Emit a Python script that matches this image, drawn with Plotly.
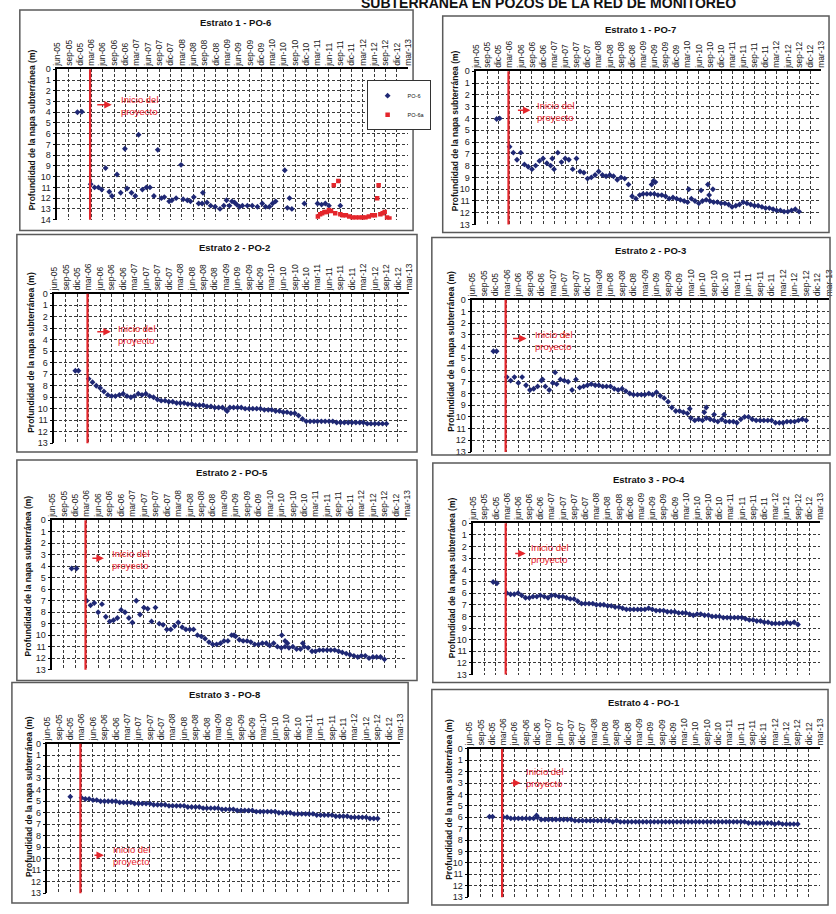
import pandas as pd
import plotly.graph_objects as go

# ---------------------------------------------------------------- data
TICK_LABELS = ["jun-05", "sep-05", "dic-05", "mar-06", "jun-06", "sep-06", "dic-06",
               "mar-07", "jun-07", "sep-07", "dic-07", "mar-08", "jun-08", "sep-08",
               "dic-08", "mar-09", "jun-09", "sep-09", "dic-09", "mar-10", "jun-10",
               "sep-10", "dic-10", "mar-11", "jun-11", "sep-11", "dic-11", "mar-12",
               "jun-12", "sep-12", "dic-12", "mar-13"]
AXIS_START = "2005-06-01"
AXIS_END = "2013-03-01"
PROJECT_START = "2006-02-20"          # "Inicio del proyecto"
MONTHLY_START = "2006-03-01"          # first monthly reading after project start

# Estrato 1 - PO-6 (irregular readings)
PO6_DATES = ["2005-11-10", "2005-12-15", "2006-02-25", "2006-03-28", "2006-04-28", "2006-05-25",
             "2006-06-25", "2006-07-25", "2006-08-15", "2006-09-25", "2006-10-25", "2006-11-28",
             "2006-12-15", "2007-01-20", "2007-02-20", "2007-03-18", "2007-04-18", "2007-05-20",
             "2007-06-18", "2007-07-20", "2007-08-20", "2007-09-18", "2007-10-12", "2007-11-20",
             "2007-12-12", "2008-01-15", "2008-02-24", "2008-03-12", "2008-04-15", "2008-05-10",
             "2008-06-06", "2008-07-15", "2008-08-12", "2008-08-18", "2008-09-20", "2008-10-20",
             "2008-11-25", "2009-01-03", "2009-02-03", "2009-02-25", "2009-03-20", "2009-04-10",
             "2009-05-01", "2009-05-18", "2009-06-10", "2009-07-03", "2009-08-12", "2009-09-20",
             "2009-11-01", "2009-12-10", "2010-01-06", "2010-02-06", "2010-03-03", "2010-03-28",
             "2010-06-10", "2010-07-01", "2010-07-18", "2010-08-06", "2010-11-15", "2011-03-01",
             "2011-04-03", "2011-05-03", "2011-06-01", "2011-09-01"]
PO6_DEPTH = [4.0, 3.95, 10.7, 11.0, 11.0, 11.2,
             9.2, 11.4, 11.8, 9.8, 11.5, 7.4,
             11.1, 11.5, 11.8, 6.1, 11.2, 11.0,
             11.0, 11.8, 7.5, 12.0, 11.9, 12.3,
             12.2, 12.0, 8.9, 12.1, 12.2, 12.3,
             11.9, 12.5, 12.5, 11.5, 12.4, 12.7,
             12.8, 13.0, 12.7, 12.2, 12.7, 12.3,
             12.4, 12.6, 12.8, 12.7, 12.7, 12.7,
             12.8, 12.5, 12.8, 12.8, 12.5, 12.3,
             9.4, 12.9, 12.0, 13.0, 12.5, 12.5,
             12.6, 12.5, 12.7, 12.7]

# Estrato 1 - PO-6a
PO6A_DATES = ["2011-03-04", "2011-03-22", "2011-04-08", "2011-04-26", "2011-05-15", "2011-06-01",
              "2011-06-18", "2011-07-10", "2011-07-22", "2011-08-16", "2011-09-01", "2011-09-20",
              "2011-10-16", "2011-11-12", "2011-12-08", "2012-01-04", "2012-02-01", "2012-02-28",
              "2012-03-22", "2012-04-18", "2012-05-15", "2012-06-06", "2012-06-24", "2012-07-06",
              "2012-07-20", "2012-08-08", "2012-08-24", "2012-09-12", "2012-10-01"]
PO6A_DEPTH = [13.7, 13.5, 13.4, 13.3, 13.3, 13.1,
              13.2, 10.8, 13.4, 10.4, 13.5, 13.6,
              13.6, 13.7, 13.8, 13.8, 13.8, 13.8,
              13.8, 13.7, 13.6, 13.6, 12.0, 10.8,
              13.5, 13.4, 13.3, 13.8, 13.9]

# Monthly readings mar-06 .. sep-12 (one group = one quarter)
PO7_MONTHLY = [6.4, 6.9, 7.5,  6.9, 7.9, 8.1,  8.3, 8.0, 7.6,  7.4, 7.8, 8.0,
               8.3, 6.9, 7.7,  7.4, 7.5, 8.3,  7.4, 8.5, 8.6,  9.1, 9.0, 8.8,
               8.5, 8.8, 8.9,  8.8, 8.9, 9.2,  9.0, 9.1, 9.6,  10.6, 10.8, 10.5,
               10.4, 10.4, 10.4,  10.4, 10.5, 10.5,  10.6, 10.8, 10.7,  10.8, 10.9, 11.0,
               11.1, 10.8, 11.0,  11.2, 11.0, 10.9,  11.0, 11.1, 11.1,  11.2, 11.2, 11.3,
               11.5, 11.4, 11.3,  11.1, 11.2, 11.3,  11.4, 11.4, 11.5,  11.6, 11.6, 11.7,
               11.8, 11.8, 11.9,  11.9, 11.8, 11.7,  11.9]
PO7_EXTRA_DATES = ["2005-11-15", "2005-12-10", "2007-02-15", "2009-05-10", "2009-05-25",
                   "2009-06-10", "2010-03-10", "2010-06-20", "2010-08-15", "2010-08-25", "2010-09-25"]
PO7_EXTRA_DEPTH = [4.05, 4.0, 7.4, 9.6, 9.3, 9.4, 10.0, 10.1, 9.6, 10.5, 10.0]

PO2_MONTHLY = [7.4, 7.7, 8.0,  8.2, 8.5, 8.8,  8.9, 8.9, 8.8,  8.7, 8.9, 9.0,
               8.9, 8.7, 8.8,  8.7, 8.9, 9.0,  9.2, 9.3, 9.3,  9.4, 9.4, 9.5,
               9.5, 9.5, 9.6,  9.6, 9.7, 9.7,  9.7, 9.8, 9.8,  9.9, 9.9, 9.9,
               10.1, 9.9, 9.9,  9.9, 9.9, 10.0,  10.0, 10.0, 10.0,  10.0, 10.1, 10.1,
               10.1, 10.2, 10.2,  10.3, 10.3, 10.4,  10.4, 10.6, 10.9,  11.1, 11.1, 11.1,
               11.1, 11.1, 11.1,  11.1, 11.1, 11.2,  11.2, 11.2, 11.2,  11.2, 11.2, 11.2,
               11.2, 11.3, 11.3,  11.3, 11.3, 11.3,  11.3]
PO2_EXTRA_DATES = ["2005-11-15", "2005-12-10", "2009-03-10"]
PO2_EXTRA_DEPTH = [6.7, 6.7, 10.2]

PO3_MONTHLY = [6.6, 6.9, 6.6,  7.1, 6.6, 7.3,  7.7, 7.6, 7.4,  6.9, 7.4, 7.7,
               7.1, 7.2, 6.8,  6.9, 7.0, 7.7,  6.8, 7.5, 7.4,  7.3, 7.2, 7.3,
               7.3, 7.4, 7.4,  7.4, 7.6, 7.7,  7.6, 7.8, 8.0,  8.1, 8.1, 8.1,
               8.1, 8.0, 8.1,  7.9, 8.2, 8.4,  8.7, 9.2, 9.5,  9.5, 9.6, 9.7,
               10.1, 10.3, 10.2,  10.3, 10.1, 10.2,  10.3, 10.4, 10.2,  10.4, 10.4, 10.4,
               10.5, 10.2, 10.0,  10.0, 10.2, 10.3,  10.3, 10.3, 10.3,  10.3, 10.5, 10.5,
               10.5, 10.4, 10.4,  10.4, 10.3, 10.2,  10.3]
PO3_EXTRA_DATES = ["2005-11-15", "2005-12-10", "2006-12-10", "2007-03-20", "2010-02-20",
                   "2010-06-15", "2010-07-01", "2010-09-01", "2010-11-20"]
PO3_EXTRA_DEPTH = [4.4, 4.4, 6.8, 6.2, 9.3, 9.6, 9.2, 9.8, 9.8]

PO5_MONTHLY = [7.0, 7.4, 7.2,  8.0, 7.3, 8.4,  8.8, 8.7, 8.5,  7.8, 8.0, 8.5,
               8.9, 7.0, 8.2,  7.6, 7.7, 8.8,  7.6, 9.0, 9.1,  9.5, 9.5, 9.2,
               8.9, 9.3, 9.5,  9.5, 9.5, 10.0,  10.1, 10.3, 10.6,  10.8, 10.8, 10.7,
               10.5, 10.5, 10.0,  10.1, 10.4, 10.5,  10.5, 10.6, 10.8,  10.8, 10.7, 10.7,
               10.9, 10.7, 11.0,  11.1, 11.0, 11.1,  11.0, 11.2, 11.2,  11.0, 11.1, 11.4,
               11.4, 11.3, 11.3,  11.3, 11.3, 11.3,  11.4, 11.5, 11.6,  11.7, 11.8, 11.9,
               11.8, 11.8, 12.0,  11.9, 11.9, 11.9,  12.1]
PO5_EXTRA_DATES = ["2005-11-01", "2005-12-10", "2009-05-20", "2010-06-05", "2010-07-01",
                   "2010-07-20", "2010-11-20"]
PO5_EXTRA_DEPTH = [4.2, 4.2, 10.0, 10.0, 10.5, 10.7, 10.7]

PO4_MONTHLY = [6.0, 6.1, 6.1,  6.0, 6.2, 6.4,  6.4, 6.3, 6.3,  6.2, 6.3, 6.4,
               6.2, 6.2, 6.3,  6.3, 6.4, 6.5,  6.5, 6.7, 6.9,  6.9, 6.9, 6.9,
               7.0, 7.0, 7.0,  7.1, 7.1, 7.2,  7.2, 7.3, 7.4,  7.4, 7.4, 7.4,
               7.4, 7.4, 7.3,  7.4, 7.5, 7.5,  7.5, 7.6, 7.6,  7.6, 7.7, 7.7,
               7.7, 7.8, 7.9,  7.8, 7.8, 7.9,  7.9, 8.0, 8.0,  8.0, 8.1, 8.1,
               8.1, 8.1, 8.1,  8.1, 8.2, 8.3,  8.3, 8.4, 8.4,  8.5, 8.5, 8.6,
               8.6, 8.6, 8.6,  8.5, 8.6, 8.5,  8.7]
PO4_EXTRA_DATES = ["2005-11-10", "2005-12-10"]
PO4_EXTRA_DEPTH = [5.05, 5.15]

PO8_MONTHLY = [4.7, 4.8, 4.8,  4.9, 4.9, 5.0,  5.0, 5.0, 5.0,  5.0, 5.1, 5.1,
               5.1, 5.1, 5.2,  5.2, 5.2, 5.2,  5.2, 5.3, 5.3,  5.3, 5.3, 5.4,
               5.4, 5.4, 5.4,  5.4, 5.5, 5.5,  5.5, 5.5, 5.6,  5.6, 5.6, 5.6,
               5.6, 5.7, 5.7,  5.7, 5.7, 5.8,  5.8, 5.8, 5.8,  5.8, 5.9, 5.9,
               5.9, 5.9, 5.9,  5.9, 6.0, 6.0,  6.0, 6.0, 6.1,  6.1, 6.1, 6.1,
               6.1, 6.1, 6.2,  6.2, 6.2, 6.2,  6.2, 6.3, 6.3,  6.3, 6.3, 6.4,
               6.4, 6.4, 6.4,  6.4, 6.5, 6.5,  6.5]
PO8_EXTRA_DATES = ["2005-12-01"]
PO8_EXTRA_DEPTH = [4.6]

PO1_MONTHLY = [6.0, 6.0, 6.1,  6.1, 6.1, 6.1,  6.1, 6.1, 6.1,  6.0, 6.2, 6.2,
               6.2, 6.2, 6.2,  6.2, 6.2, 6.2,  6.2, 6.3, 6.3,  6.3, 6.3, 6.3,
               6.3, 6.3, 6.3,  6.3, 6.3, 6.4,  6.3, 6.4, 6.4,  6.4, 6.4, 6.4,
               6.4, 6.4, 6.4,  6.4, 6.4, 6.4,  6.4, 6.4, 6.4,  6.4, 6.4, 6.4,
               6.4, 6.4, 6.4,  6.4, 6.4, 6.4,  6.4, 6.4, 6.4,  6.4, 6.4, 6.4,
               6.4, 6.4, 6.4,  6.4, 6.4, 6.5,  6.5, 6.5, 6.5,  6.5, 6.5, 6.5,
               6.6, 6.5, 6.6,  6.6, 6.6, 6.6,  6.6]
PO1_EXTRA_DATES = ["2005-11-10", "2005-12-05", "2006-11-25"]
PO1_EXTRA_DEPTH = [5.95, 5.95, 5.85]


def monthly_dates(values):
    return [d.strftime("%Y-%m-%d") for d in
            pd.date_range(MONTHLY_START, periods=len(values), freq="MS")]


# ---------------------------------------------------------------- styles / layout
FIG_W, FIG_H = 836, 914
FONT = "Arial, 'Liberation Sans', sans-serif"
NAVY = "#1f2874"
RED = "#e4262c"
RED_TXT = "#e8222c"
GRID = "#3a3a3a"


def px_x(v):
    return v / FIG_W


def px_y(v):
    return 1 - v / FIG_H


TICK_DATES = [d.strftime("%Y-%m-%d") for d in
              pd.date_range(AXIS_START, periods=len(TICK_LABELS), freq="3MS")]

# plot = (left, top, right, bottom) px ; frame = (l, t, r, b) px
PANELS = [
    dict(title="Estrato 1 - PO-6", ymax=14, plot=(53, 65, 408, 217), frame=(15, 5, 413, 228),
         tpos=(233, 18), ypos=(27, 126), txt=(0.175, 3.4), arr=(0.155, 3.3, 16),
         series=[("PO-6", PO6_DATES, PO6_DEPTH, "navy"), ("PO-6a", PO6A_DATES, PO6A_DEPTH, "red")]),
    dict(title="Estrato 1 - PO-7", ymax=13, plot=(477, 67, 826, 222), frame=(443, 11, 834, 230),
         tpos=(643, 25), ypos=(455, 127), txt=(0.17, 3.4), arr=(0.157, 3.3, 14),
         series=[("PO-7", PO7_EXTRA_DATES + monthly_dates(PO7_MONTHLY),
                  PO7_EXTRA_DEPTH + PO7_MONTHLY, "navy")]),
    dict(title="Estrato 2 - PO-2", ymax=13, plot=(50, 292, 409, 443), frame=(12, 232, 417, 452),
         tpos=(232, 245), ypos=(26, 351), txt=(0.175, 3.5), arr=(0.159, 3.3, 15),
         series=[("PO-2", PO2_EXTRA_DATES + monthly_dates(PO2_MONTHLY),
                  PO2_EXTRA_DEPTH + PO2_MONTHLY, "navy")]),
    dict(title="Estrato 2 - PO-3", ymax=13, plot=(473, 298, 834, 452), frame=(432, 235, 835, 455),
         tpos=(653, 248), ypos=(452, 350), txt=(0.171, 3.5), arr=(0.152, 3.3, 15),
         series=[("PO-3", PO3_EXTRA_DATES + monthly_dates(PO3_MONTHLY),
                  PO3_EXTRA_DEPTH + PO3_MONTHLY, "navy")]),
    dict(title="Estrato 2 - PO-5", ymax=13, plot=(48, 521, 407, 672), frame=(12, 460, 417, 683),
         tpos=(230, 473), ypos=(23, 577), txt=(0.162, 3.4), arr=(0.145, 3.3, 13),
         series=[("PO-5", PO5_EXTRA_DATES + monthly_dates(PO5_MONTHLY),
                  PO5_EXTRA_DEPTH + PO5_MONTHLY, "navy")]),
    dict(title="Estrato 3 - PO-4", ymax=13, plot=(474, 524, 825, 677), frame=(433, 463, 835, 685),
         tpos=(652, 480), ypos=(452, 579), txt=(0.16, 2.6), arr=(0.151, 2.6, 12),
         series=[("PO-4", PO4_EXTRA_DATES + monthly_dates(PO4_MONTHLY),
                  PO4_EXTRA_DEPTH + PO4_MONTHLY, "navy")]),
    dict(title="Estrato 3 - PO-8", ymax=13, plot=(43, 747, 400, 898), frame=(7, 685, 408, 908),
         tpos=(222, 697), ypos=(25, 800), txt=(0.18, 9.7), arr=(0.16, 9.7, 11),
         series=[("PO-8", PO8_EXTRA_DATES + monthly_dates(PO8_MONTHLY),
                  PO8_EXTRA_DEPTH + PO8_MONTHLY, "navy")]),
    dict(title="Estrato 4 - PO-1", ymax=13, plot=(470, 752, 825, 902), frame=(432, 692, 833, 910),
         tpos=(647, 705), ypos=(450, 803), txt=(0.155, 2.5), arr=(0.146, 3.0, 11),
         series=[("PO-1", PO1_EXTRA_DATES + monthly_dates(PO1_MONTHLY),
                  PO1_EXTRA_DEPTH + PO1_MONTHLY, "navy")]),
]

fig = go.Figure()
shapes, annotations, layout_axes = [], [], {}

for i, p in enumerate(PANELS, start=1):
    sfx = "" if i == 1 else str(i)
    xa, ya = f"x{sfx}", f"y{sfx}"
    l, t, r, b = p["plot"]
    for name, dates, depth, col in p["series"]:
        if col == "red":
            marker = dict(symbol="square", size=4.5, color=RED)
        else:
            marker = dict(symbol="diamond", size=4.5, color=NAVY)
        fig.add_trace(go.Scatter(x=dates, y=depth, mode="markers", name=name, marker=marker,
                                 xaxis=xa, yaxis=ya, showlegend=(i == 1)))

    layout_axes[f"xaxis{sfx}"] = dict(
        domain=[px_x(l), px_x(r)], anchor=ya, type="date", side="top",
        range=[AXIS_START, AXIS_END], tickmode="array", tickvals=TICK_DATES, ticktext=TICK_LABELS,
        tickangle=-90, tickfont=dict(family=FONT, size=8.5, color="#222"), ticks="",
        showgrid=True, gridcolor=GRID, gridwidth=1, griddash="3px,2px",
        showline=True, linecolor="black", linewidth=1.5, zeroline=False, fixedrange=True)
    layout_axes[f"yaxis{sfx}"] = dict(
        domain=[px_y(b), px_y(t)], anchor=xa, range=[p["ymax"], 0], tick0=0, dtick=1,
        tickfont=dict(family=FONT, size=9, color="#222"), ticks="outside", ticklen=3,
        tickcolor="black", showgrid=True, gridcolor=GRID, gridwidth=1, griddash="3px,2px",
        showline=True, linecolor="black", linewidth=1.5, zeroline=False, fixedrange=True)

    # outer chart frame
    fl, ft, fr, fb = p["frame"]
    shapes.append(dict(type="rect", xref="paper", yref="paper", x0=px_x(fl), x1=px_x(fr),
                       y0=px_y(fb), y1=px_y(ft), line=dict(color="#5a5a5a", width=1.5)))
    # project start line
    shapes.append(dict(type="line", xref=xa, yref=f"{ya} domain", x0=PROJECT_START,
                       x1=PROJECT_START, y0=0, y1=1, line=dict(color=RED, width=2.2)))

    annotations.append(dict(text=f"<b>{p['title']}</b>", xref="paper", yref="paper",
                            x=px_x(p["tpos"][0]), y=px_y(p["tpos"][1]), showarrow=False,
                            xanchor="center", yanchor="middle",
                            font=dict(family=FONT, size=9.5, color="#111")))
    annotations.append(dict(text="<b>Profundidad de la napa subterránea (m)</b>", xref="paper",
                            yref="paper", x=px_x(p["ypos"][0]), y=px_y(p["ypos"][1]),
                            showarrow=False, textangle=-90, xanchor="center", yanchor="middle",
                            font=dict(family=FONT, size=8.5, color="#111")))
    annotations.append(dict(text="Inicio del<br>proyecto", xref=f"{xa} domain", yref=ya,
                            x=p["txt"][0], y=p["txt"][1], showarrow=False, align="left",
                            xanchor="left", yanchor="middle",
                            font=dict(family=FONT, size=9.5, color=RED_TXT)))
    annotations.append(dict(text="", xref=f"{xa} domain", yref=ya, x=p["arr"][0], y=p["arr"][1],
                            showarrow=True, ax=-p["arr"][2], ay=0, arrowhead=2, arrowsize=1,
                            arrowwidth=1.5, arrowcolor=RED))

# page heading (cut off by the scan)
annotations.append(dict(text="<b>SUBTERRÁNEA EN POZOS DE LA RED DE MONITOREO</b>",
                        xref="paper", yref="paper", x=px_x(742), y=px_y(8),
                        xanchor="right", yanchor="bottom", showarrow=False,
                        font=dict(family=FONT, size=14, color="#111")))

fig.update_layout(
    width=FIG_W, height=FIG_H, margin=dict(l=0, r=0, t=0, b=0),
    paper_bgcolor="white", plot_bgcolor="white",
    shapes=shapes, annotations=annotations,
    legend=dict(x=px_x(366), y=px_y(76), xanchor="left", yanchor="top", bgcolor="white",
                bordercolor="#333", borderwidth=1, font=dict(family=FONT, size=5.5, color="#111"),
                itemwidth=30, tracegroupgap=0, itemsizing="trace"),
    **layout_axes,
)

fig.write_html("out.html", config={"displayModeBar": False},
               post_script="document.body.style.margin='0';document.body.style.overflow='hidden';")
